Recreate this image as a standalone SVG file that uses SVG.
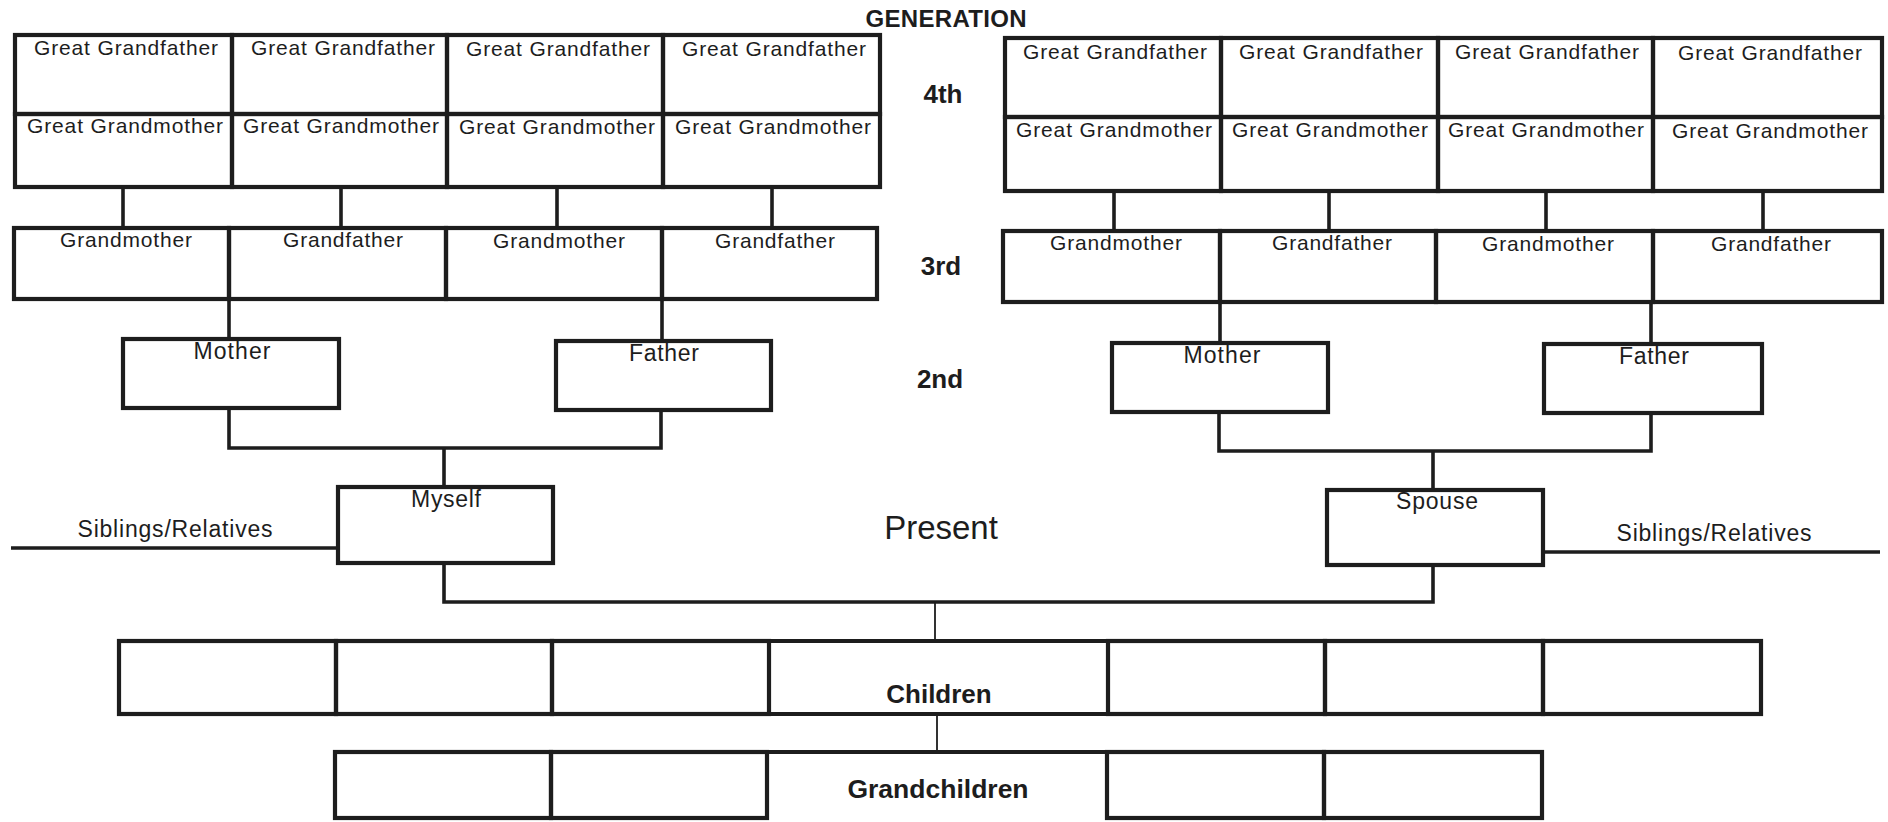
<svg xmlns="http://www.w3.org/2000/svg" width="1888" height="822" viewBox="0 0 1888 822">
<style>
.bg{fill:#ffffff}
.box{fill:none;stroke:#1d1d1d;stroke-width:4.2}
.conn{fill:none;stroke:#1d1d1d;stroke-width:3.6}
.thin{fill:none;stroke:#1d1d1d;stroke-width:1.8}
.t{font-family:"Liberation Sans",Arial,Helvetica,sans-serif;font-size:21px;text-anchor:middle;fill:#1d1d1d}
.m{font-size:23px}
.g{font-weight:bold;font-size:26px}
</style>
<rect class="bg" x="0" y="0" width="1888" height="822"/>

<g id="connectors">
<path class="conn" d="M123 187V228M341 187V228M557 187V228M772 187V228"/>
<path class="conn" d="M1114 191V231M1329 191V231M1546 191V231M1763 191V231"/>
<path class="conn" d="M229 299V339M662 299V341"/>
<path class="conn" d="M1220 302V343M1651 302V344"/>
<path class="conn" d="M229 408V448H661V410M444 448V487"/>
<path class="conn" d="M1219 412V451H1651V413M1433 451V490"/>
<path class="conn" d="M11 548H338M1543 552H1880"/>
<path class="conn" d="M444 563V602H1433V565"/>
<path class="thin" d="M935 602V641M937 714V752"/>
</g>

<g id="labels">
<text class="t g" x="946" y="27" style="font-size:24px" textLength="161">GENERATION</text>
<text class="t g" x="943" y="103">4th</text>
<text class="t g" x="941" y="275">3rd</text>
<text class="t g" x="940" y="388">2nd</text>
<text class="t" x="941" y="539" style="font-size:33px">Present</text>
</g>

<!-- 4th generation left -->
<g id="ggf-l1"><rect class="box" x="15" y="35" width="217" height="79"/><text class="t" x="126" y="55" textLength="184">Great Grandfather</text></g>
<g id="ggf-l2"><rect class="box" x="232" y="35" width="215" height="79"/><text class="t" x="343" y="55" textLength="184">Great Grandfather</text></g>
<g id="ggf-l3"><rect class="box" x="447" y="35" width="216" height="79"/><text class="t" x="558" y="56" textLength="184">Great Grandfather</text></g>
<g id="ggf-l4"><rect class="box" x="663" y="35" width="217" height="79"/><text class="t" x="774" y="56" textLength="184">Great Grandfather</text></g>
<g id="ggm-l1"><rect class="box" x="15" y="114" width="217" height="73"/><text class="t" x="125" y="133" textLength="196">Great Grandmother</text></g>
<g id="ggm-l2"><rect class="box" x="232" y="114" width="215" height="73"/><text class="t" x="341" y="133" textLength="196">Great Grandmother</text></g>
<g id="ggm-l3"><rect class="box" x="447" y="114" width="216" height="73"/><text class="t" x="557" y="134" textLength="196">Great Grandmother</text></g>
<g id="ggm-l4"><rect class="box" x="663" y="114" width="217" height="73"/><text class="t" x="773" y="134" textLength="196">Great Grandmother</text></g>

<!-- 4th generation right -->
<g id="ggf-r1"><rect class="box" x="1005" y="38" width="216" height="79"/><text class="t" x="1115" y="59" textLength="184">Great Grandfather</text></g>
<g id="ggf-r2"><rect class="box" x="1221" y="38" width="217" height="79"/><text class="t" x="1331" y="59" textLength="184">Great Grandfather</text></g>
<g id="ggf-r3"><rect class="box" x="1438" y="38" width="215" height="79"/><text class="t" x="1547" y="59" textLength="184">Great Grandfather</text></g>
<g id="ggf-r4"><rect class="box" x="1653" y="38" width="229" height="79"/><text class="t" x="1770" y="60" textLength="184">Great Grandfather</text></g>
<g id="ggm-r1"><rect class="box" x="1005" y="117" width="216" height="74"/><text class="t" x="1114" y="137" textLength="196">Great Grandmother</text></g>
<g id="ggm-r2"><rect class="box" x="1221" y="117" width="217" height="74"/><text class="t" x="1330" y="137" textLength="196">Great Grandmother</text></g>
<g id="ggm-r3"><rect class="box" x="1438" y="117" width="215" height="74"/><text class="t" x="1546" y="137" textLength="196">Great Grandmother</text></g>
<g id="ggm-r4"><rect class="box" x="1653" y="117" width="229" height="74"/><text class="t" x="1770" y="138" textLength="196">Great Grandmother</text></g>

<!-- 3rd generation left -->
<g id="gm-l1"><rect class="box" x="14" y="228" width="215" height="71"/><text class="t" x="126" y="247" textLength="132">Grandmother</text></g>
<g id="gf-l2"><rect class="box" x="229" y="228" width="217" height="71"/><text class="t" x="343" y="247" textLength="120">Grandfather</text></g>
<g id="gm-l3"><rect class="box" x="446" y="228" width="216" height="71"/><text class="t" x="559" y="248" textLength="132">Grandmother</text></g>
<g id="gf-l4"><rect class="box" x="662" y="228" width="215" height="71"/><text class="t" x="775" y="248" textLength="120">Grandfather</text></g>

<!-- 3rd generation right -->
<g id="gm-r1"><rect class="box" x="1003" y="231" width="217" height="71"/><text class="t" x="1116" y="250" textLength="132">Grandmother</text></g>
<g id="gf-r2"><rect class="box" x="1220" y="231" width="216" height="71"/><text class="t" x="1332" y="250" textLength="120">Grandfather</text></g>
<g id="gm-r3"><rect class="box" x="1436" y="231" width="217" height="71"/><text class="t" x="1548" y="251" textLength="132">Grandmother</text></g>
<g id="gf-r4"><rect class="box" x="1653" y="231" width="229" height="71"/><text class="t" x="1771" y="251" textLength="120">Grandfather</text></g>

<!-- 2nd generation -->
<g id="mother-l"><rect class="box" x="123" y="339" width="216" height="69"/><text class="t m" x="232" y="359" textLength="77">Mother</text></g>
<g id="father-l"><rect class="box" x="556" y="341" width="215" height="69"/><text class="t m" x="664" y="361" textLength="70">Father</text></g>
<g id="mother-r"><rect class="box" x="1112" y="343" width="216" height="69"/><text class="t m" x="1222" y="363" textLength="77">Mother</text></g>
<g id="father-r"><rect class="box" x="1544" y="344" width="218" height="69"/><text class="t m" x="1654" y="364" textLength="70">Father</text></g>

<!-- present -->
<g id="myself"><rect class="box" x="338" y="487" width="215" height="76"/><text class="t m" x="446" y="507" textLength="70">Myself</text></g>
<g id="spouse"><rect class="box" x="1327" y="490" width="216" height="75"/><text class="t m" x="1437" y="509" textLength="82">Spouse</text></g>
<g id="siblings-l"><text class="t m" x="175" y="537" textLength="195">Siblings/Relatives</text></g>
<g id="siblings-r"><text class="t m" x="1714" y="541" textLength="195">Siblings/Relatives</text></g>

<!-- children -->
<g id="child-1"><rect class="box" x="119" y="641" width="217" height="73"/></g>
<g id="child-2"><rect class="box" x="336" y="641" width="216" height="73"/></g>
<g id="child-3"><rect class="box" x="552" y="641" width="217" height="73"/></g>
<g id="children"><path class="box" d="M769 641H1108M769 714H1108"/><text class="t g" x="939" y="703">Children</text></g>
<g id="child-4"><rect class="box" x="1108" y="641" width="217" height="73"/></g>
<g id="child-5"><rect class="box" x="1325" y="641" width="218" height="73"/></g>
<g id="child-6"><rect class="box" x="1543" y="641" width="218" height="73"/></g>

<!-- grandchildren -->
<g id="grandchild-1"><rect class="box" x="335" y="752" width="216" height="66"/></g>
<g id="grandchild-2"><rect class="box" x="551" y="752" width="216" height="66"/></g>
<g id="grandchildren"><path class="box" d="M767 752H1107"/><text class="t g" x="938" y="798" style="font-size:26.5px">Grandchildren</text></g>
<g id="grandchild-3"><rect class="box" x="1107" y="752" width="217" height="66"/></g>
<g id="grandchild-4"><rect class="box" x="1324" y="752" width="218" height="66"/></g>
</svg>
